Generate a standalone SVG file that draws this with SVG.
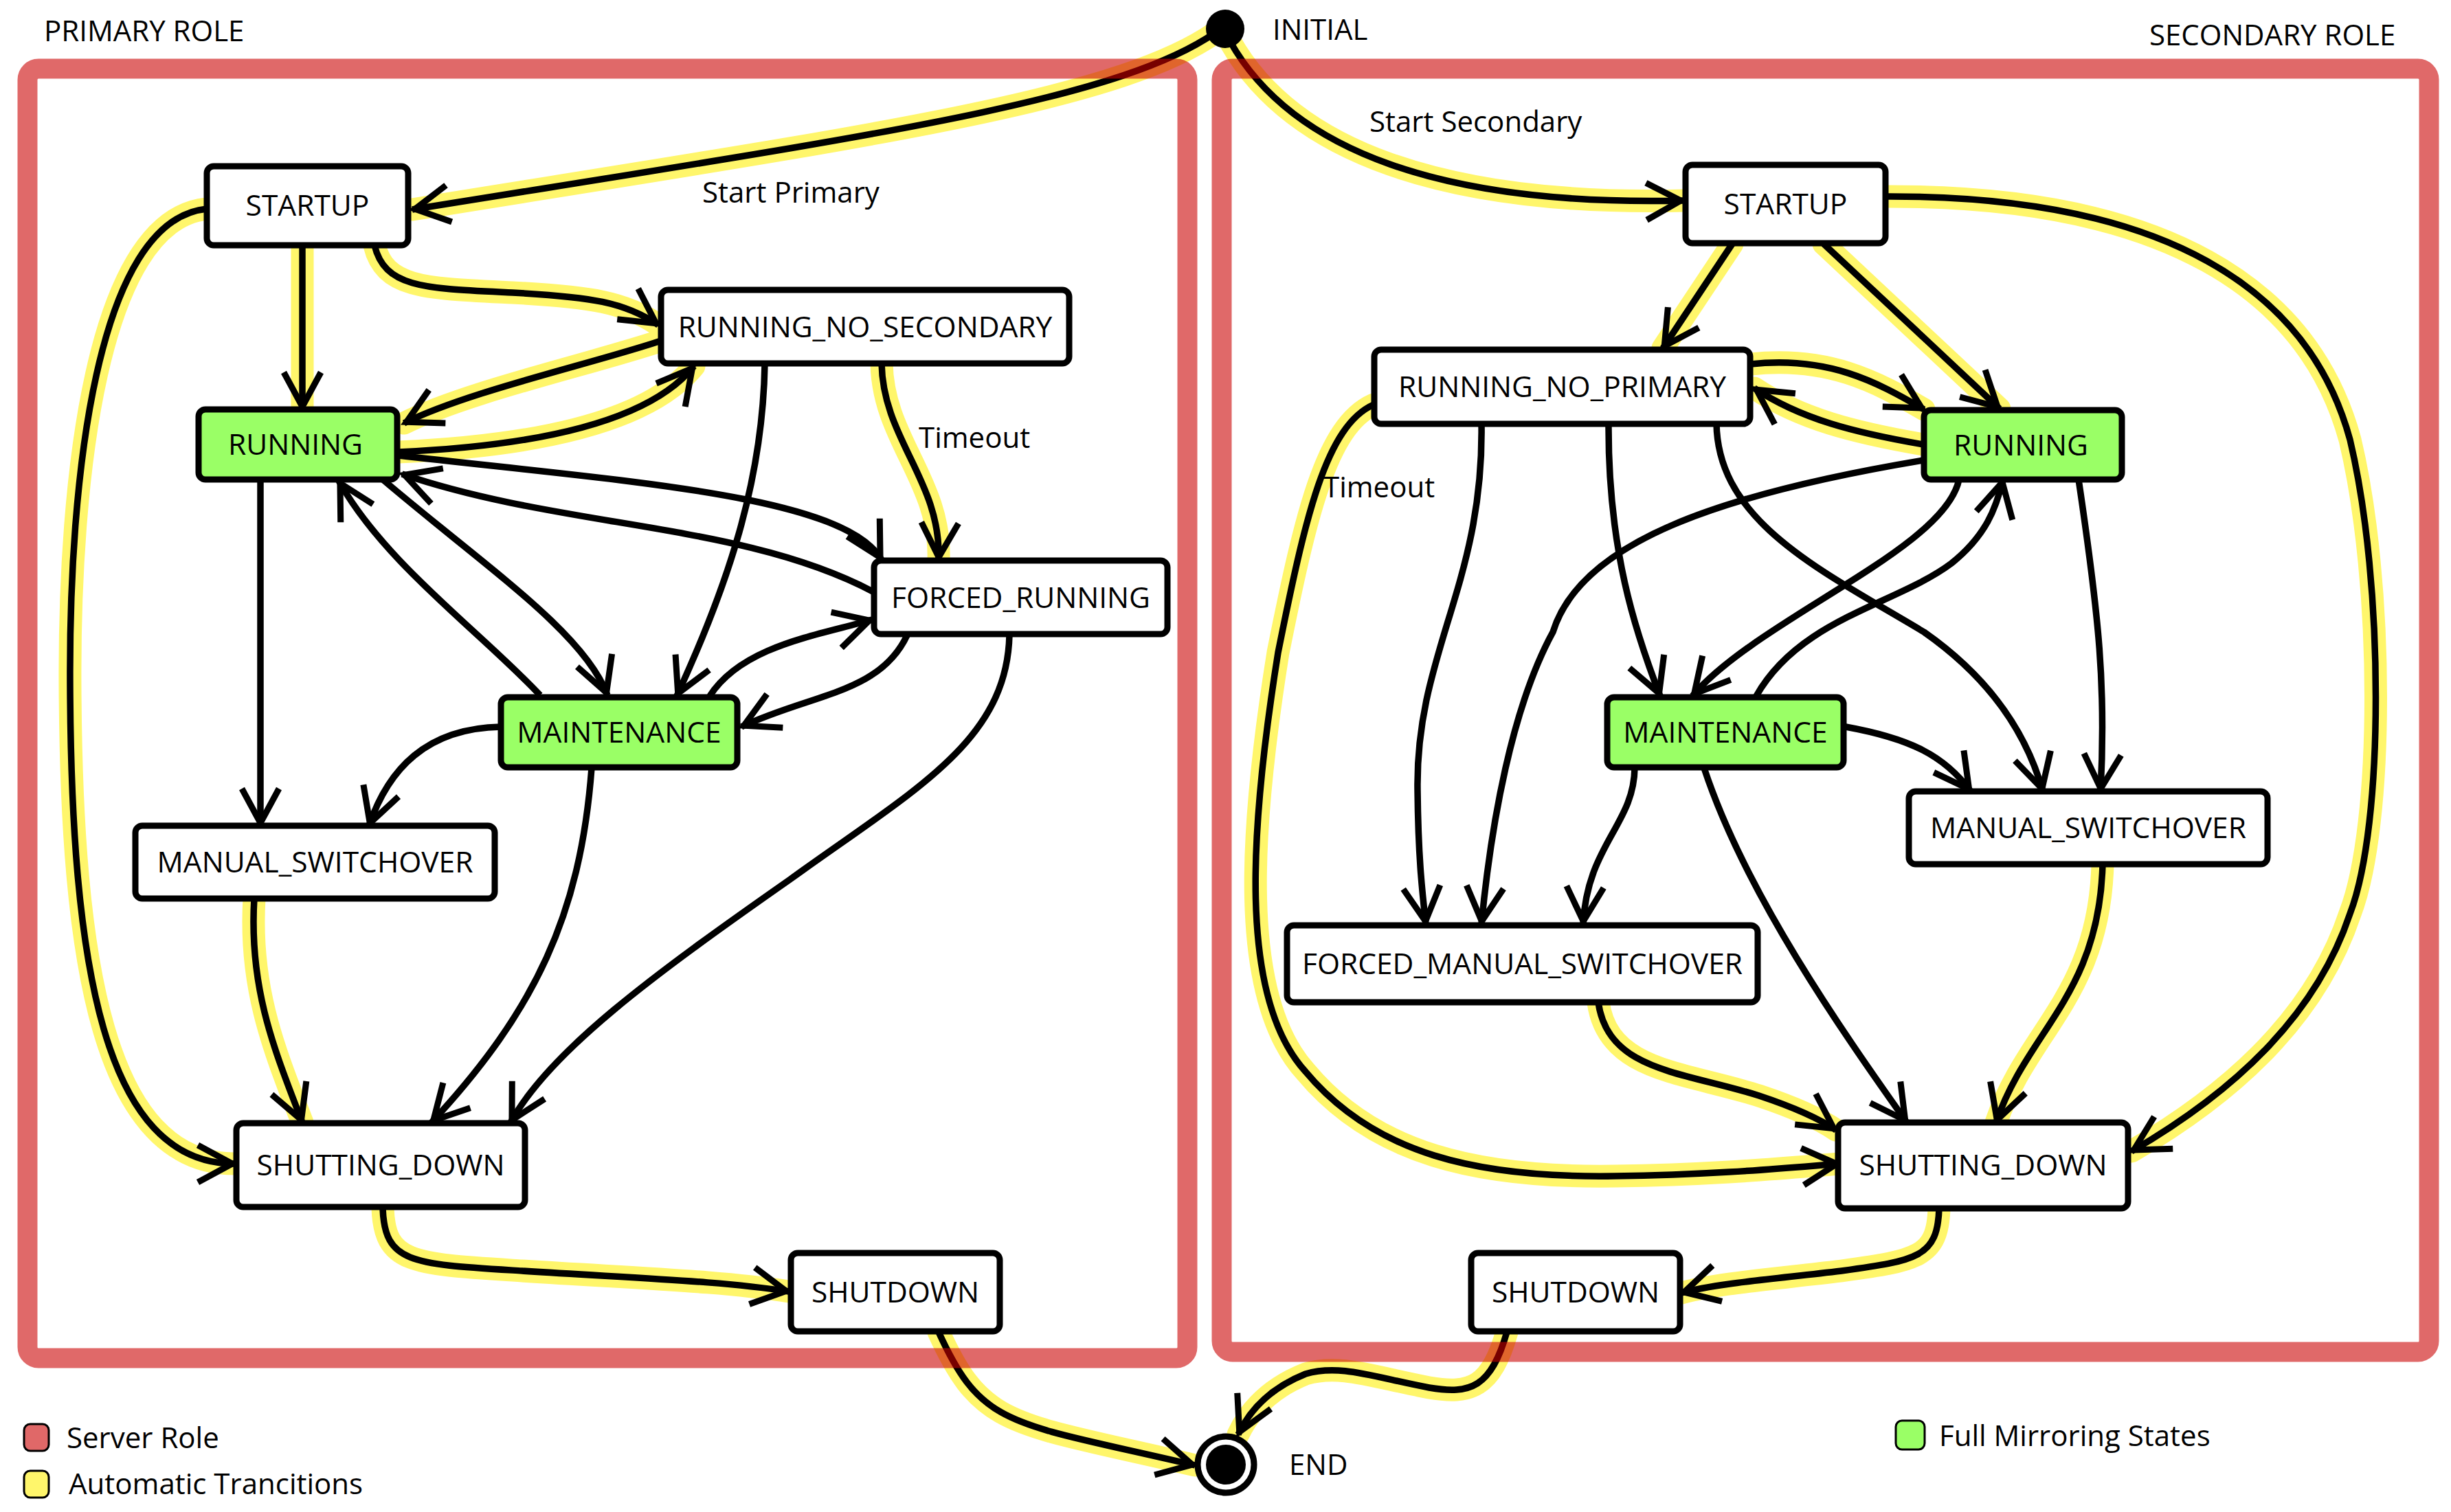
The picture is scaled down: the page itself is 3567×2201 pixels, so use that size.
<svg xmlns="http://www.w3.org/2000/svg" width="3567" height="2201" viewBox="0 0 3567 2201">
<style>
text{font-family:"Open Sans","Noto Sans","DejaVu Sans",sans-serif;font-size:42px;fill:#000}
.n rect{stroke:#000;stroke-width:9;fill:#fff}
.n.g rect{fill:#9aff66}
.n text{text-anchor:middle;font-size:42.5px}
.e path{fill:none;stroke:#000;stroke-width:9.5;marker-end:url(#ah)}
.hl path{fill:none;stroke:#fff66b;stroke-width:33;stroke-linecap:round}
.panel{fill:none;stroke:rgb(203,0,0);stroke-opacity:0.59;stroke-width:29}
</style>
<defs>
<marker id="ah" markerUnits="userSpaceOnUse" viewBox="-70 -40 80 80" markerWidth="80" markerHeight="80" refX="4" refY="0" orient="auto" overflow="visible">
<path d="M-50,-27 L0,0 L-50,27" fill="none" stroke="#000" stroke-width="9"/>
</marker>
</defs>
<rect width="3567" height="2201" fill="#fff"/>

<g id="highlights" class="hl">
<path d="M1768,48 C1620,150 1250,200 600,305"/>
<path d="M440,357 L440,596"/>
<path d="M545,357 C560,420 620,420 746,426 C860,432 910,440 958,473"/>
<path d="M962,496 C860,530 680,570 588,616"/>
<path d="M580,658 C760,650 940,620 1010,533"/>
<path d="M1283,529 C1285,640 1370,700 1366,815"/>
<path d="M301,304 C140,320 100,700 102,1000 C104,1400 150,1694 342,1694"/>
<path d="M370,1308 C362,1440 400,1530 440,1634"/>
<path d="M557,1759 C560,1840 600,1840 760,1850 C950,1862 1050,1865 1148,1880"/>
<path d="M1366,1939 C1430,2080 1470,2070 1739,2133"/>
<path d="M1790,60 C1880,220 2100,300 2450,292"/>
<path d="M2521,355 L2420,507"/>
<path d="M2654,355 L2910,595"/>
<path d="M2548,530 C2660,518 2730,555 2800,596"/>
<path d="M2799,647 C2700,630 2620,610 2553,565"/>
<path d="M1999,589 C1930,620 1900,750 1860,950 C1820,1200 1800,1450 1900,1560 C2000,1680 2150,1715 2350,1712 C2500,1710 2600,1700 2677,1694"/>
<path d="M2326,1459 C2340,1560 2450,1560 2560,1595 C2620,1615 2650,1630 2672,1645"/>
<path d="M3060,1258 C3055,1450 2950,1500 2905,1634"/>
<path d="M2747,286 C3150,285 3360,420 3420,640 C3470,850 3470,1200 3420,1330 C3370,1480 3250,1590 3102,1676"/>
<path d="M2822,1759 C2820,1830 2790,1835 2680,1850 C2580,1862 2500,1868 2447,1882"/>
<path d="M2193,1939 C2170,2020 2140,2030 2080,2020 C2000,2005 1950,1985 1900,2000 C1850,2020 1820,2050 1802,2088"/>
</g>

<g id="connectors" class="e">
<path d="M1768,48 C1620,150 1250,200 600,305"/>
<path d="M440,357 L440,596"/>
<path d="M545,357 C560,420 620,420 746,426 C860,432 910,440 958,473"/>
<path d="M962,496 C860,530 680,570 588,616"/>
<path d="M580,658 C760,650 940,620 1010,533"/>
<path d="M1113,530 C1110,700 1060,850 985,1013"/>
<path d="M1283,529 C1285,640 1370,700 1366,815"/>
<path d="M580,663 C900,700 1230,720 1283,815"/>
<path d="M1272,862 C1080,760 820,770 585,690"/>
<path d="M557,698 C700,820 850,920 884,1012"/>
<path d="M786,1012 C700,920 560,820 493,700"/>
<path d="M379,698 L379,1202"/>
<path d="M729,1058 C620,1060 565,1120 537,1202"/>
<path d="M1033,1013 C1080,940 1190,925 1269,902"/>
<path d="M1320,925 C1280,1010 1180,1010 1079,1058"/>
<path d="M1469,925 C1465,1080 1330,1150 1150,1280 C950,1420 800,1530 743,1634"/>
<path d="M861,1118 C845,1330 780,1470 628,1634"/>
<path d="M301,304 C140,320 100,700 102,1000 C104,1400 150,1694 342,1694"/>
<path d="M370,1308 C362,1440 400,1530 440,1634"/>
<path d="M557,1759 C560,1840 600,1840 760,1850 C950,1862 1050,1865 1148,1880"/>
<path d="M1366,1939 C1430,2080 1470,2070 1739,2133"/>
<path d="M1790,60 C1880,220 2100,300 2450,292"/>
<path d="M2521,355 L2420,507"/>
<path d="M2654,355 L2910,595"/>
<path d="M2548,530 C2660,518 2730,555 2800,596"/>
<path d="M2799,647 C2700,630 2620,610 2553,565"/>
<path d="M2156,616 C2160,850 2060,950 2063,1150 C2064,1250 2070,1300 2075,1345"/>
<path d="M2341,616 C2340,800 2380,920 2416,1013"/>
<path d="M2498,616 C2500,760 2650,830 2800,920 C2900,990 2950,1070 2973,1152"/>
<path d="M2799,670 C2500,720 2300,790 2260,920 C2200,1030 2170,1200 2156,1345"/>
<path d="M2851,698 C2830,800 2560,900 2463,1013"/>
<path d="M2556,1013 C2620,900 2760,880 2840,820 C2890,780 2905,740 2915,698"/>
<path d="M2686,1058 C2780,1075 2830,1100 2868,1152"/>
<path d="M3025,698 C3055,900 3065,1000 3057,1152"/>
<path d="M2379,1118 C2378,1200 2310,1230 2304,1345"/>
<path d="M2480,1118 C2540,1300 2680,1500 2775,1634"/>
<path d="M2326,1459 C2340,1560 2450,1560 2560,1595 C2620,1615 2650,1630 2672,1645"/>
<path d="M1999,589 C1930,620 1900,750 1860,950 C1820,1200 1800,1450 1900,1560 C2000,1680 2150,1715 2350,1712 C2500,1710 2600,1700 2677,1694"/>
<path d="M3060,1258 C3055,1450 2950,1500 2905,1634"/>
<path d="M2747,286 C3150,285 3360,420 3420,640 C3470,850 3470,1200 3420,1330 C3370,1480 3250,1590 3102,1676"/>
<path d="M2822,1759 C2820,1830 2790,1835 2680,1850 C2580,1862 2500,1868 2447,1882"/>
<path d="M2193,1939 C2170,2020 2140,2030 2080,2020 C2000,2005 1950,1985 1900,2000 C1850,2020 1820,2050 1802,2088"/>
</g>

<g id="edge-labels">
<text x="1022" y="295">Start Primary</text>
<text x="1337" y="652">Timeout</text>
<text x="1993" y="192">Start Secondary</text>
<text x="1926" y="724">Timeout</text>
</g>

<g id="p_startup" class="n"><rect x="301" y="242" width="293" height="115" rx="10"/><text x="447.5" y="314">STARTUP</text></g>
<g id="p_running_no_secondary" class="n"><rect x="962" y="422" width="594" height="107" rx="10"/><text x="1259" y="491">RUNNING_NO_SECONDARY</text></g>
<g id="p_running" class="n g"><rect x="289" y="596" width="289" height="102" rx="10"/><text x="430" y="662">RUNNING</text></g>
<g id="p_forced_running" class="n"><rect x="1272" y="816" width="427" height="107" rx="10"/><text x="1485.5" y="885">FORCED_RUNNING</text></g>
<g id="p_maintenance" class="n g"><rect x="729" y="1015" width="344" height="102" rx="10"/><text x="901" y="1081">MAINTENANCE</text></g>
<g id="p_manual_switchover" class="n"><rect x="197" y="1202" width="523" height="106" rx="10"/><text x="458.5" y="1270">MANUAL_SWITCHOVER</text></g>
<g id="p_shutting_down" class="n"><rect x="344" y="1635" width="420" height="122" rx="10"/><text x="554" y="1711">SHUTTING_DOWN</text></g>
<g id="p_shutdown" class="n"><rect x="1151" y="1824" width="304" height="114" rx="10"/><text x="1303" y="1896">SHUTDOWN</text></g>

<g id="s_startup" class="n"><rect x="2453" y="240" width="291" height="114" rx="10"/><text x="2598.5" y="312">STARTUP</text></g>
<g id="s_running_no_primary" class="n"><rect x="2000" y="509" width="547" height="108" rx="10"/><text x="2273.5" y="578">RUNNING_NO_PRIMARY</text></g>
<g id="s_running" class="n g"><rect x="2800" y="597" width="288" height="101" rx="10"/><text x="2941" y="663">RUNNING</text></g>
<g id="s_maintenance" class="n g"><rect x="2339" y="1015" width="344" height="102" rx="10"/><text x="2511" y="1081">MAINTENANCE</text></g>
<g id="s_manual_switchover" class="n"><rect x="2778" y="1152" width="522" height="106" rx="10"/><text x="3039" y="1220">MANUAL_SWITCHOVER</text></g>
<g id="s_forced_manual_switchover" class="n"><rect x="1873" y="1347" width="685" height="112" rx="10"/><text x="2215.5" y="1418">FORCED_MANUAL_SWITCHOVER</text></g>
<g id="s_shutting_down" class="n"><rect x="2675" y="1634" width="422" height="125" rx="10"/><text x="2886" y="1711">SHUTTING_DOWN</text></g>
<g id="s_shutdown" class="n"><rect x="2141" y="1824" width="304" height="114" rx="10"/><text x="2293" y="1896">SHUTDOWN</text></g>

<g id="initial"><circle cx="1783" cy="42" r="28" fill="#000"/><text x="1852" y="58">INITIAL</text></g>
<g id="end"><circle cx="1784" cy="2132" r="41" fill="#fff" stroke="#000" stroke-width="9"/><circle cx="1784" cy="2132" r="29" fill="#000"/><text x="1876" y="2147">END</text></g>

<g id="primary_role"><rect class="panel" x="40" y="100" width="1688" height="1877" rx="16"/><text x="64" y="60">PRIMARY ROLE</text></g>
<g id="secondary_role"><rect class="panel" x="1778" y="100" width="1757" height="1868" rx="16"/><text x="3128" y="66">SECONDARY ROLE</text></g>

<g id="legend">
<rect x="35" y="2073" width="36" height="39" rx="9" fill="#e06868" stroke="#000" stroke-width="3"/>
<text x="97" y="2108">Server Role</text>
<rect x="35" y="2141" width="36" height="39" rx="9" fill="#fff66b" stroke="#000" stroke-width="3"/>
<text x="100" y="2175">Automatic Trancitions</text>
<rect x="2759" y="2068" width="42" height="42" rx="9" fill="#9aff66" stroke="#000" stroke-width="3"/>
<text x="2822" y="2105">Full Mirroring States</text>
</g>
</svg>
